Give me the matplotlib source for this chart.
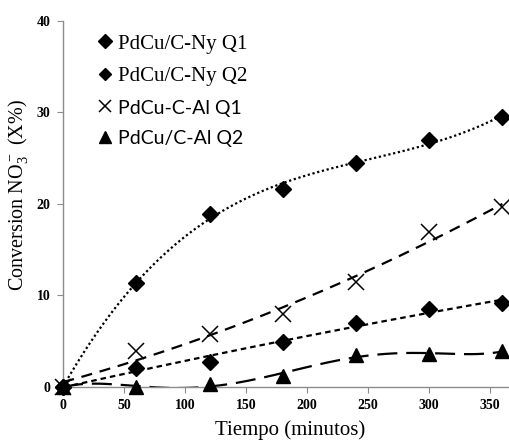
import numpy as np
import matplotlib.pyplot as plt
from matplotlib.lines import Line2D

# datos
tiempo = [0, 60, 120, 180, 240, 300, 360]
ny_q1 = [0, 11.4, 18.9, 21.6, 24.5, 27.0, 29.5]
ny_q2 = [0, 2.1, 2.7, 4.9, 7.0, 8.5, 9.2]
al_q1 = [0, 3.9, 5.8, 8.0, 11.5, 16.9, 19.7]
al_q2 = [0, 0.0, 0.3, 1.2, 3.5, 3.6, 3.9]
etiquetas = ['PdCu/C-Ny Q1', 'PdCu/C-Ny Q2', 'PdCu-C-Al Q1', 'PdCu/C-Al Q2']
xticks = [0, 50, 100, 150, 200, 250, 300, 350]
yticks = [0, 10, 20, 30, 40]

plt.rcParams['font.family'] = ['Liberation Serif', 'DejaVu Serif']
plt.rcParams['mathtext.fontset'] = 'custom'
plt.rcParams['mathtext.rm'] = 'Liberation Serif'

fig = plt.figure(figsize=(5.1, 4.4), dpi=100)
ax = fig.add_axes([0.124, 0.1205, 0.873, 0.832])

x = np.array(tiempo, dtype=float)
xs = np.linspace(0, 360, 200)

# lineas de tendencia (polinomio) como en excel
def tendencia(y, grado, estilo):
    p = np.polyfit(x, y, grado)
    ax.plot(xs, np.polyval(p, xs), color='black', lw=1.6, linestyle=estilo, zorder=2)

tendencia(ny_q1, 3, (0, (1, 1.2)))
tendencia(ny_q2, 2, (0, (2.5, 1.8)))
tendencia(al_q1, 2, (0, (5, 3.5)))
tendencia(al_q2, 5, (0, (9, 4)))

ax.plot(x, ny_q1, 'D', color='black', ms=8, ls='none', clip_on=False, zorder=3)
ax.plot(x, ny_q2, 'D', color='black', ms=8, ls='none', clip_on=False, zorder=3)
ax.plot(x, al_q1, 'x', color='black', ms=11, mew=1.1, ls='none', clip_on=False, zorder=3)
ax.plot(x, al_q2, '^', color='black', ms=10, ls='none', clip_on=False, zorder=3)

ax.set_xlim(0, 365)
ax.set_ylim(0, 40)
ax.set_xticks(xticks, [str(v) for v in xticks], fontweight='bold', fontsize=10)
ax.set_yticks(yticks, [str(v) for v in yticks], fontweight='bold', fontsize=10)

for s in ['top', 'right']:
    ax.spines[s].set_visible(False)
for s in ['left', 'bottom']:
    ax.spines[s].set_color('#8c8c8c')
    ax.spines[s].set_linewidth(1.0)
ax.tick_params(axis='both', direction='out', length=4, color='#8c8c8c')
ax.tick_params(axis='x', pad=5)
ax.tick_params(axis='y', pad=5)

ax.set_xlabel('Tiempo (minutos)', fontsize=15)
ax.xaxis.set_label_coords(0.51, -0.09)
ax.set_ylabel('Conversion NO$_3^-$ (X%)', fontsize=14.5)
ax.yaxis.set_label_coords(-0.072, 0.525)

handles = [
    Line2D([], [], marker='D', color='black', ls='none', ms=7),
    Line2D([], [], marker='D', color='black', ls='none', ms=6),
    Line2D([], [], marker='x', color='black', ls='none', ms=9, mew=1.1),
    Line2D([], [], marker='^', color='black', ls='none', ms=8),
]
leg = ax.legend(handles, etiquetas, loc='upper left', bbox_to_anchor=(0.038, 1.015),
                frameon=False, fontsize=15, handlelength=0.6, handletextpad=0.3,
                labelspacing=0.62)
for t in leg.get_texts()[2:]:
    t.set_family(['Lato', 'DejaVu Sans'])
    t.set_fontsize(14)

fig.savefig('out.png', dpi=100)
